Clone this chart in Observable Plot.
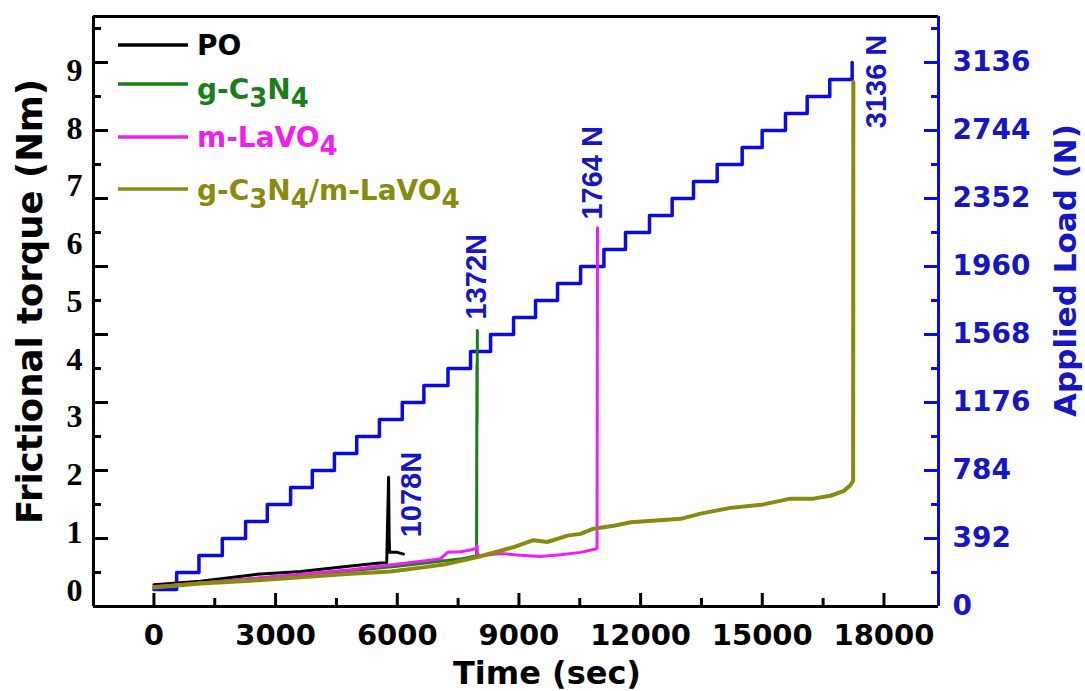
<!DOCTYPE html>
<html><head><meta charset="utf-8">
<script src="https://cdn.jsdelivr.net/npm/d3@7"></script>
<script src="https://cdn.jsdelivr.net/npm/@observablehq/plot@0.6"></script>
<style>
body{margin:0;background:#fff;}
#wrap{position:relative;width:1085px;height:691px;}
#wrap svg.legend{position:absolute;left:0;top:0;pointer-events:none;}
</style></head><body><div id="wrap"></div>
<script>
// ---------- data ----------
const poTime   = [0, 1150, 2550, 3620, 4800, 5510, 5740, 5786, 5800, 5812, 6000, 6155];
const poTorque = [0.10, 0.16, 0.28, 0.33, 0.42, 0.47, 0.48, 1.96, 0.90, 0.66, 0.66, 0.63];

const gTime   = [0, 1500, 3000, 4500, 6000, 7000, 7600, 7955, 7965, 7968, 7975];
const gTorque = [0.06, 0.15, 0.24, 0.32, 0.42, 0.50, 0.55, 0.60, 3.90, 2.90, 4.50];

const mTime   = [0, 1150, 2550, 3620, 4850, 5660, 6750, 7070, 7240, 7560, 7800, 7950, 7965, 7980, 8050, 8550, 9040, 9530, 10025, 10520, 10840, 10925, 10937];
const mTorque = [0.07, 0.13, 0.21, 0.28, 0.36, 0.43, 0.52, 0.55, 0.66, 0.67, 0.70, 0.73, 0.78, 0.62, 0.60, 0.64, 0.61, 0.59, 0.62, 0.66, 0.71, 0.73, 6.28];

const oTime   = [0, 1150, 2380, 3620, 4850, 5835, 6640, 7240, 7980, 8300, 8870, 9360, 9700, 10200, 10520, 10840, 11340, 11760, 12990, 13480, 14220, 15030, 15700, 16260, 16680, 17000, 17170, 17240, 17245];
const oTorque = [0.05, 0.12, 0.17, 0.23, 0.29, 0.33, 0.40, 0.46, 0.58, 0.64, 0.75, 0.87, 0.84, 0.95, 0.98, 1.07, 1.12, 1.18, 1.24, 1.33, 1.43, 1.49, 1.59, 1.59, 1.64, 1.72, 1.82, 1.90, 8.80];

// applied load staircase (N)
const loadTime  = [0, 560, 1110, 1686, 2260, 2795, 3370, 3905, 4450, 5000, 5560, 6123, 6656, 7250, 7807, 8300, 8867, 9409, 9952, 10520, 11095, 11627, 12219, 12778, 13304, 13888, 14504, 14997, 15572, 16107, 16664, 17216];
const loadValue = [98, 196, 294, 392, 490, 588, 686, 784, 882, 980, 1078, 1176, 1274, 1372, 1470, 1568, 1666, 1764, 1862, 1960, 2058, 2156, 2254, 2352, 2450, 2548, 2646, 2744, 2842, 2940, 3038, 3136];

const annLabel  = ["1078N", "1372N", "1764 N", "3136 N"];
const annTime   = [6352, 7955, 10814, 17815];
const annTorque = [1.66, 5.43, 7.23, 8.81];

const torqueTicks   = [0, 1, 2, 3, 4, 5, 6, 7, 8, 9];
const loadTickLabels = [0, 392, 784, 1176, 1568, 1960, 2352, 2744, 3136];
const loadMajorTicks = [392, 784, 1176, 1568, 1960, 2352, 2744, 3136];
const loadMinorTicks = [196, 588, 980, 1372, 1764, 2156, 2548, 2940, 3332];
const timeTicks      = [0, 3000, 6000, 9000, 12000, 15000, 18000];
const timeMinorTicks = [1500, 4500, 7500, 10500, 13500, 16500];

const seriesNames  = ["PO", "g-C_3N_4", "m-LaVO_4", "g-C_3N_4/m-LaVO_4"];
const seriesColors = ["#000000", "#1a7f1a", "#f01ef0", "#8a8a0e"];
const seriesWidths = [3, 3, 3, 4];
const seriesTime   = [poTime, gTime, mTime, oTime];
const seriesTorque = [poTorque, gTorque, mTorque, oTorque];

// ---------- layout ----------
const W = 1085, H = 691, mL = 93, mR = 147, mT = 16, mB = 85;
const frameW = W - mL - mR, frameH = H - mT - mB;
const pxPerT = 520 / 9, pxPerN = 544 / 3136, zeroGap = 16;
const toT = L => (L * pxPerN - zeroGap) / pxPerT;   // load -> torque-axis units
const fromT = T => (T * pxPerT + zeroGap) / pxPerN;
const yDomain = [-zeroGap / pxPerT, (frameH - zeroGap) / pxPerT];
const xDomain = [-1490, 19345];
const blue = "#0a0ae6", blueText = "#1616c4";
const sansB = "DejaVu Sans";

const loadRows = loadTime.map((t, i) => ({t, T: toT(loadValue[i])}));
const annRows = annLabel.map((s, i) => ({s, t: annTime[i], T: annTorque[i]}));

const lineMarks = seriesNames.map((n, k) =>
  Plot.line(seriesTime[k].map((t, i) => ({t, v: seriesTorque[k][i]})),
    {x: "t", y: "v", stroke: seriesColors[k], strokeWidth: seriesWidths[k], strokeLinejoin: "round"}));

const chart = Plot.plot({
  width: W, height: H,
  marginLeft: mL, marginRight: mR, marginTop: mT, marginBottom: mB,
  x: {domain: xDomain},
  y: {domain: yDomain},
  style: {background: "white", fontFamily: sansB, overflow: "visible"},
  marks: [
    Plot.line(loadRows, {x: "t", y: "T", curve: "step-after", stroke: blue, strokeWidth: 3.5}),
    ...lineMarks,
    // frame
    Plot.ruleY([yDomain[1]], {stroke: "#000", strokeWidth: 3}),
    Plot.ruleY([yDomain[0]], {stroke: "#000", strokeWidth: 3}),
    Plot.ruleX([xDomain[0]], {stroke: "#000", strokeWidth: 3}),
    Plot.ruleX([xDomain[1]], {stroke: blue, strokeWidth: 3}),
    // inward ticks
    Plot.tickY(loadMajorTicks.map(toT), {y: d => d, stroke: "#000", strokeWidth: 3, insetRight: frameW - 15}),
    Plot.tickY(loadMinorTicks.map(toT), {y: d => d, stroke: "#000", strokeWidth: 3, insetRight: frameW - 8}),
    Plot.tickY(loadMajorTicks.map(toT), {y: d => d, stroke: blue, strokeWidth: 3, insetLeft: frameW - 14}),
    Plot.tickY(loadMinorTicks.map(toT), {y: d => d, stroke: blue, strokeWidth: 3, insetLeft: frameW - 7}),
    Plot.tickX(timeTicks, {x: d => d, stroke: "#000", strokeWidth: 3, insetTop: frameH - 13}),
    Plot.tickX(timeMinorTicks, {x: d => d, stroke: "#000", strokeWidth: 3, insetTop: frameH - 8}),
    // tick labels
    Plot.axisY(torqueTicks, {anchor: "left", tickSize: 0, tickPadding: 11, tickFormat: d => String(d),
      fontFamily: "Liberation Serif", fontSize: 32, fontWeight: "bold", color: "#000", label: null}),
    Plot.axisY(loadTickLabels.map(toT), {anchor: "right", tickSize: 0, tickPadding: 14,
      tickFormat: d => String(Math.round(fromT(d))),
      fontFamily: sansB, fontSize: 28, fontWeight: "bold", color: blueText, label: null}),
    Plot.axisX(timeTicks, {anchor: "bottom", tickSize: 0, tickPadding: 18, tickFormat: d => String(d),
      fontFamily: sansB, fontSize: 29, fontWeight: "bold", color: "#000", label: null}),
    // axis titles
    Plot.text(["Frictional torque (Nm)"], {frameAnchor: "left", rotate: -90, dx: -63, dy: -10,
      fontFamily: sansB, fontSize: 35.5, fontWeight: "bold", fill: "#000", textAnchor: "middle", lineAnchor: "middle"}),
    Plot.text(["Applied Load (N)"], {frameAnchor: "right", rotate: -90, dx: 128, dy: -41,
      fontFamily: sansB, fontSize: 31, fontWeight: "bold", fill: blueText, textAnchor: "middle", lineAnchor: "middle"}),
    Plot.text(["Time (sec)"], {frameAnchor: "bottom", dx: 31, dy: 67,
      fontFamily: sansB, fontSize: 32, fontWeight: "bold", fill: "#000", textAnchor: "middle", lineAnchor: "middle"}),
    // annotations
    Plot.text(annRows, {x: "t", y: "T", text: "s", rotate: -90, textAnchor: "middle", lineAnchor: "middle",
      fontFamily: "Liberation Sans", fontSize: 29, fontWeight: "bold", fill: blueText})
  ]
});
document.getElementById("wrap").appendChild(chart);

// ---------- legend (inside frame, top-left) ----------
const legendLineY = [45, 84, 137, 189];
const legendBaseY = [55, 99, 147, 200];
const lg = d3.select("#wrap").append("svg").attr("class", "legend")
  .attr("width", W).attr("height", H);
seriesNames.forEach((name, k) => {
  lg.append("line").attr("x1", 118).attr("x2", 188)
    .attr("y1", legendLineY[k]).attr("y2", legendLineY[k])
    .attr("stroke", seriesColors[k]).attr("stroke-width", 3.5);
  const t = lg.append("text").attr("x", 197).attr("y", legendBaseY[k])
    .attr("fill", seriesColors[k]).attr("font-family", sansB)
    .attr("font-size", 28).attr("font-weight", "bold");
  const parts = name.split(/(_\d)/).filter(p => p.length);
  let shifted = false;
  parts.forEach(p => {
    if (p.startsWith("_")) {
      t.append("tspan").attr("dy", shifted ? 0 : 8).attr("font-size", 26).text(p.slice(1));
      shifted = true;
    } else {
      t.append("tspan").attr("dy", shifted ? -8 : 0).text(p);
      shifted = false;
    }
  });
});
</script>
</body></html>
